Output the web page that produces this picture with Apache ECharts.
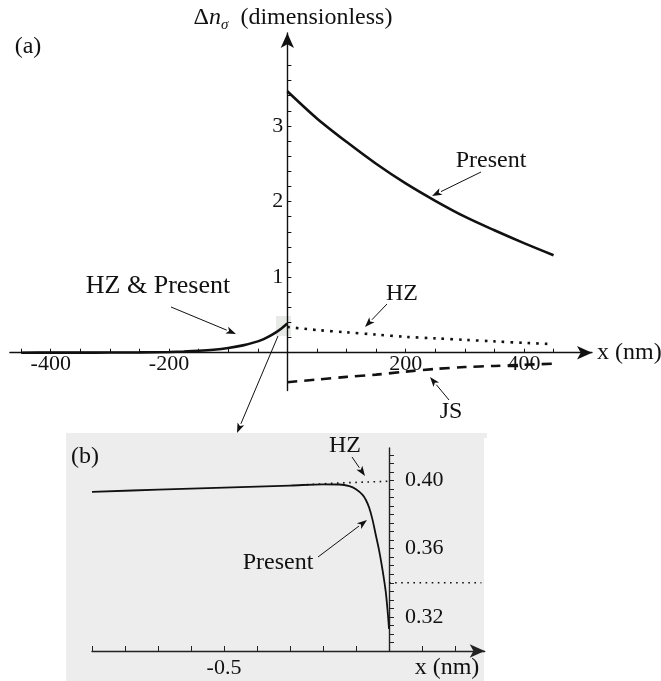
<!DOCTYPE html>
<html>
<head>
<meta charset="utf-8">
<script src="https://cdn.jsdelivr.net/npm/echarts@6/dist/echarts.min.js"></script>
<style>
html,body{margin:0;padding:0;background:#fff;}
#chart{width:661px;height:681px;}
</style>
</head>
<body>
<div id="chart"></div>
<script>
// ---------- data ----------
// main panel (a)
const leftX = [-450,-400,-350,-300,-250,-200,-175,-150,-125,-100,-75,-50,-40,-30,-20,-10,0];
const hzPresentLeft = [0.000,0.001,0.001,0.002,0.004,0.010,0.016,0.025,0.039,0.062,0.097,0.150,0.180,0.220,0.265,0.320,0.385];
const rightX = [0,50,100,150,200,250,300,350,400,450];
const presentRight = [3.46,3.10,2.79,2.50,2.24,2.01,1.80,1.62,1.45,1.29];
const hzRightX = [0,50,100,150,200,250,300,350,400,445];
const hzRight = [0.34,0.30,0.27,0.24,0.21,0.19,0.17,0.15,0.13,0.115];
const jsRight = [-0.39,-0.355,-0.32,-0.29,-0.25,-0.215,-0.19,-0.175,-0.16,-0.145];
const mainXTicks = [-450,-400,-350,-300,-250,-200,-150,-100,-50,50,100,150,200,250,300,350,400,450];
const mainXLabels = [-400,-200,200,400];
const mainYTicks = [0.2,0.4,0.6,0.8,1,1.2,1.4,1.6,1.8,2,2.2,2.4,2.6,2.8,3,3.2,3.4,3.6,3.8];
const mainYLabels = [1,2,3];
// inset panel (b)
const insetX = [-0.9,-0.7,-0.5,-0.3,-0.2,-0.15,-0.12,-0.1,-0.08,-0.07,-0.06,-0.05,-0.04,-0.03,-0.02,-0.01,-0.004,0];
const insetPresent = [0.3933,0.3946,0.3958,0.397,0.3977,0.3976,0.3966,0.3948,0.3915,0.3885,0.384,0.377,0.368,0.359,0.348,0.335,0.323,0.313];
const insetHzLeftX = [-0.25,-0.15,0];
const insetHzLeft = [0.3975,0.3985,0.3995];
const insetHzRightX = [0,0.28];
const insetHzRight = [0.34,0.34];
const insetXTicks = [-0.9,-0.8,-0.7,-0.6,-0.5,-0.4,-0.3,-0.2,-0.1,0.1,0.2];
const insetXLabels = [-0.5];
const insetYTicks = [0.305,0.31,0.315,0.32,0.325,0.33,0.335,0.34,0.345,0.35,0.355,0.36,0.365,0.37,0.375,0.38,0.385,0.39,0.395,0.40,0.405,0.41,0.415];
const insetYLabels = [0.32,0.36,0.40];

// ---------- layout ----------
const W = 661, H = 681;
const MAIN = {left: 9.9, right: 69, top: 33, bottom: 290.5, xmin: -469, xmax: 515, ymin: -0.5, ymax: 4.23};
const INSET = {left: 92, right: 176.3, top: 448, bottom: 30, xmin: -0.9, xmax: 0.29, ymin: 0.30, ymax: 0.419};
function zeroX(g) { const w = W - g.left - g.right; return g.left + (0 - g.xmin) / (g.xmax - g.xmin) * w; }
function zeroY(g) { const h = H - g.top - g.bottom; return g.top + (g.ymax - 0) / (g.ymax - g.ymin) * h; }

// ---------- helpers ----------
const FONT = '"Liberation Serif", "DejaVu Serif", serif';
const INK = '#111';
const zip = (xs, ys) => xs.map((x, i) => [x, ys[i]]);
function arrow(x1, y1, x2, y2) {
  const a = Math.atan2(y2 - y1, x2 - x1), L = 10, Wd = 3.6;
  const c = Math.cos(a), s = Math.sin(a);
  const bx = x2 - L * c, by = y2 - L * s;
  return [
    {type: 'line', z: 100, shape: {x1, y1, x2: bx, y2: by}, style: {stroke: INK, lineWidth: 1}},
    {type: 'polygon', z: 100, shape: {points: [[x2, y2], [bx + Wd * s, by - Wd * c], [bx + 2.5 * c, by + 2.5 * s], [bx - Wd * s, by + Wd * c]]}, style: {fill: INK}}
  ];
}
function label(text, x, y, size, align) {
  return {type: 'text', z: 100, x, y, style: {text, fontFamily: FONT, fontSize: size || 24, fill: INK, textAlign: align || 'center', textVerticalAlign: 'middle'}};
}

const chart = echarts.init(document.getElementById('chart'));
const axisLineStyle = {color: INK, width: 1.4};
const mainX0 = zeroX(MAIN), mainY0 = zeroY(MAIN), insetX0 = zeroX(INSET);

const option = {
  animation: false,
  backgroundColor: '#fff',
  textStyle: {fontFamily: FONT},
  grid: [
    {left: MAIN.left, right: MAIN.right, top: MAIN.top, bottom: MAIN.bottom, outerBoundsMode: 'none', containLabel: false},
    {left: INSET.left, right: INSET.right, top: INSET.top, bottom: INSET.bottom, outerBoundsMode: 'none', containLabel: false}
  ],
  xAxis: [
    {
      gridIndex: 0, type: 'value', min: MAIN.xmin, max: MAIN.xmax, position: 'bottom',
      offset: -(H - MAIN.bottom - mainY0),
      name: 'x (nm)', nameLocation: 'end', nameGap: 5,
      nameTextStyle: {fontFamily: FONT, fontSize: 24, color: INK, verticalAlign: 'middle', align: 'left'},
      axisLine: {onZero: false, lineStyle: axisLineStyle, symbol: ['none', 'arrow'], symbolSize: [10, 15]},
      axisTick: {inside: true, length: 4, lineStyle: {color: INK, width: 1}, customValues: mainXTicks},
      axisLabel: {customValues: mainXLabels, fontFamily: FONT, fontSize: 22, color: INK, margin: 1},
      splitLine: {show: false}
    },
    {
      gridIndex: 1, type: 'value', min: INSET.xmin, max: INSET.xmax, position: 'bottom',
      axisLine: {onZero: false, lineStyle: {color: '#222', width: 1.4}, symbol: ['none', 'arrow'], symbolSize: [10, 15]},
      axisTick: {inside: true, length: 5, lineStyle: {color: '#222', width: 1}, customValues: insetXTicks},
      axisLabel: {customValues: insetXLabels, fontFamily: FONT, fontSize: 22, color: INK, margin: 6},
      splitLine: {show: false}
    }
  ],
  yAxis: [
    {
      gridIndex: 0, type: 'value', min: MAIN.ymin, max: MAIN.ymax, position: 'left',
      offset: -(mainX0 - MAIN.left),
      axisLine: {onZero: false, lineStyle: axisLineStyle, symbol: ['none', 'arrow'], symbolSize: [10, 15]},
      axisTick: {inside: true, length: 4, lineStyle: {color: INK, width: 1}, customValues: mainYTicks},
      axisLabel: {customValues: mainYLabels, fontFamily: FONT, fontSize: 22, color: INK, margin: 4},
      splitLine: {show: false}
    },
    {
      gridIndex: 1, type: 'value', min: INSET.ymin, max: INSET.ymax, position: 'left',
      offset: -(insetX0 - INSET.left),
      axisLine: {onZero: false, lineStyle: {color: '#222', width: 1.4}},
      axisTick: {inside: true, length: 5, lineStyle: {color: '#222', width: 1}, customValues: insetYTicks},
      axisLabel: {inside: true, customValues: insetYLabels, fontFamily: FONT, fontSize: 22, color: INK, margin: 16,
        formatter: v => v.toFixed(2)},
      splitLine: {show: false}
    }
  ],
  series: [
    {name: 'HZ & Present', type: 'line', xAxisIndex: 0, yAxisIndex: 0, data: zip(leftX, hzPresentLeft),
      showSymbol: false, smooth: 0.3, lineStyle: {color: INK, width: 2.6}, z: 5},
    {name: 'Present', type: 'line', xAxisIndex: 0, yAxisIndex: 0, data: zip(rightX, presentRight),
      showSymbol: false, smooth: 0.3, lineStyle: {color: INK, width: 2.6}, z: 5},
    {name: 'HZ', type: 'line', xAxisIndex: 0, yAxisIndex: 0, data: zip(hzRightX, hzRight),
      showSymbol: false, smooth: 0.3, lineStyle: {color: INK, width: 2.6, type: [2.6, 6]}, z: 5},
    {name: 'JS', type: 'line', xAxisIndex: 0, yAxisIndex: 0, data: zip(rightX, jsRight),
      showSymbol: false, smooth: 0.3, lineStyle: {color: INK, width: 2.6, type: [10, 7]}, z: 5},
    {name: 'HZ (b)', type: 'line', xAxisIndex: 1, yAxisIndex: 1, data: zip(insetHzLeftX, insetHzLeft),
      showSymbol: false, lineStyle: {color: INK, width: 1.6, type: [1.6, 4.5]}, z: 4},
    {name: 'HZ (b) right', type: 'line', xAxisIndex: 1, yAxisIndex: 1, data: zip(insetHzRightX, insetHzRight),
      showSymbol: false, lineStyle: {color: INK, width: 1.6, type: [1.6, 4.5]}, z: 4},
    {name: 'Present (b)', type: 'line', xAxisIndex: 1, yAxisIndex: 1, data: zip(insetX, insetPresent),
      showSymbol: false, smooth: 0.35, lineStyle: {color: INK, width: 1.8}, z: 5}
  ],
  graphic: [
    // inset background
    {type: 'rect', z: -10, shape: {x: 66, y: 433, width: 418, height: 248}, style: {fill: '#ededed'}},
    {type: 'rect', z: -10, shape: {x: 484, y: 433, width: 3, height: 5}, style: {fill: '#ededed'}},
    // highlight box on main panel
    {type: 'rect', z: -10, shape: {x: 276, y: 316, width: 15, height: 20}, style: {fill: '#e8eae8'}},
    // titles & labels
    {type: 'text', z: 100, x: 293, y: 18, style: {
      text: '{a|Δ}{n|n}{s|σ}{a|  (dimensionless)}',
      textAlign: 'center', textVerticalAlign: 'middle',
      rich: {
        a: {fontFamily: FONT, fontSize: 24, fill: INK, lineHeight: 30, verticalAlign: 'middle'},
        n: {fontFamily: FONT, fontSize: 24, fontStyle: 'italic', fill: INK, lineHeight: 30, verticalAlign: 'middle'},
        s: {fontFamily: FONT, fontSize: 15, fontStyle: 'italic', fill: INK, lineHeight: 30, verticalAlign: 'bottom'}
      }}},
    label('(a)', 28, 47),
    label('Present', 491, 161),
    label('HZ & Present', 158, 286, 26),
    label('HZ', 402, 294),
    label('JS', 451, 412),
    label('(b)', 85, 457),
    label('HZ', 345, 446),
    label('Present', 278, 563),
    label('x (nm)', 447, 668),
    ...arrow(481, 172, 432, 196),
    ...arrow(171, 307, 236, 334),
    ...arrow(387, 304, 365, 327),
    ...arrow(449, 400, 430, 377),
    ...arrow(278, 336, 237, 433),
    ...arrow(352, 457, 365, 476),
    ...arrow(318, 557, 367, 520)
  ]
};
chart.setOption(option);
</script>
</body>
</html>
